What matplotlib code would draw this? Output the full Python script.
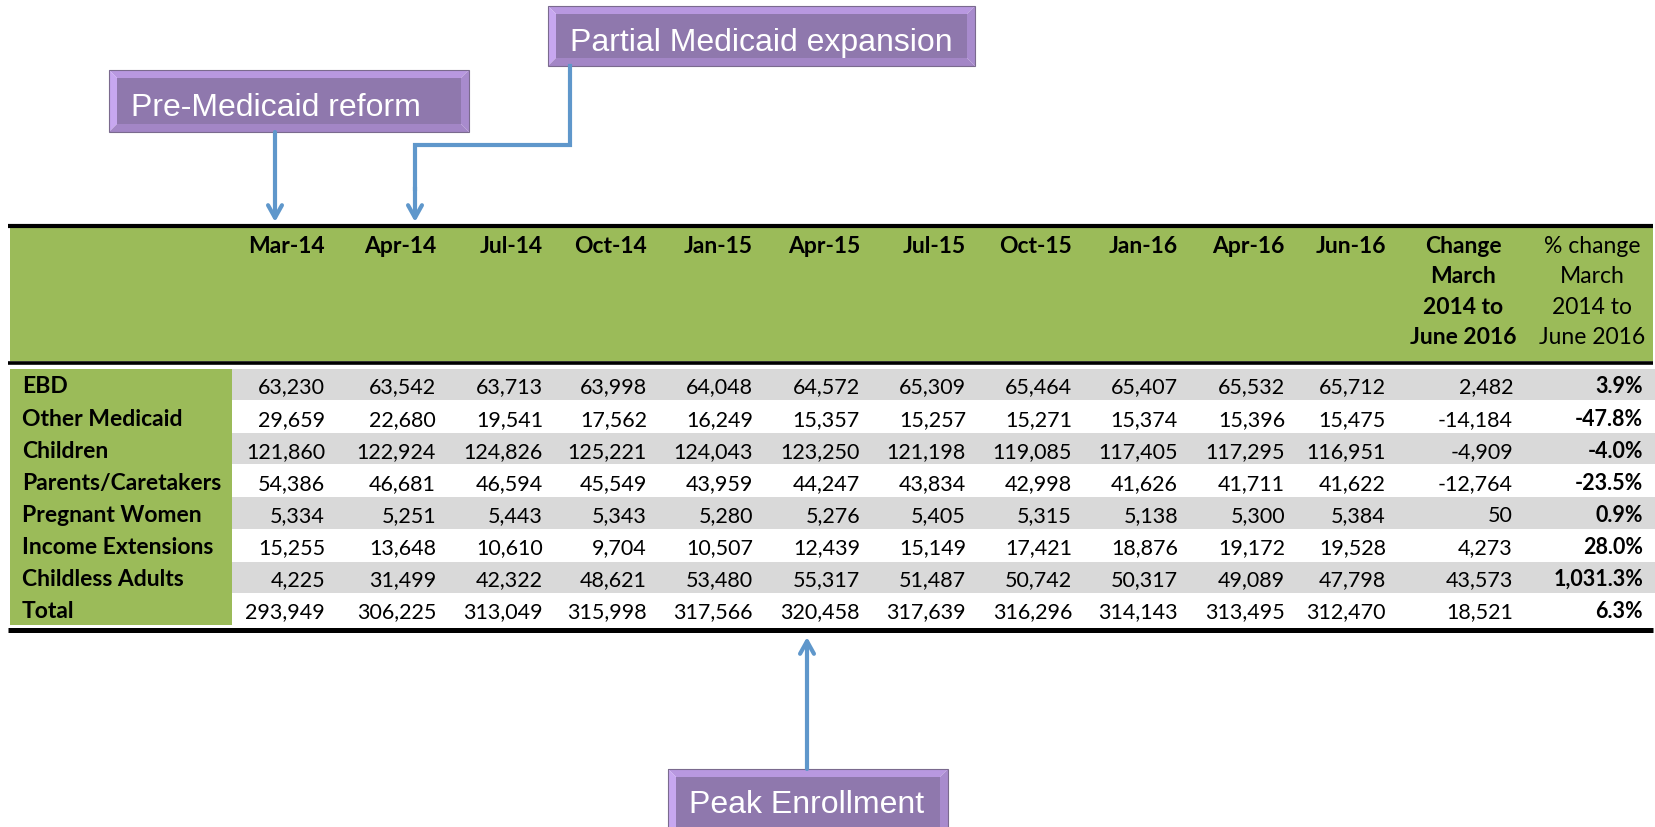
import matplotlib
matplotlib.use("Agg")
import matplotlib.pyplot as plt
from matplotlib.patches import Polygon, Rectangle

plt.rcParams["font.family"] = ["Lato", "DejaVu Sans"]

months = ["Mar-14", "Apr-14", "Jul-14", "Oct-14", "Jan-15", "Apr-15",
          "Jul-15", "Oct-15", "Jan-16", "Apr-16", "Jun-16"]
groups = ["EBD", "Other Medicaid", "Children", "Parents/Caretakers",
          "Pregnant Women", "Income Extensions", "Childless Adults", "Total"]
ebd = [63230, 63542, 63713, 63998, 64048, 64572, 65309, 65464, 65407, 65532, 65712]
other_medicaid = [29659, 22680, 19541, 17562, 16249, 15357, 15257, 15271, 15374, 15396, 15475]
children = [121860, 122924, 124826, 125221, 124043, 123250, 121198, 119085, 117405, 117295, 116951]
parents = [54386, 46681, 46594, 45549, 43959, 44247, 43834, 42998, 41626, 41711, 41622]
pregnant = [5334, 5251, 5443, 5343, 5280, 5276, 5405, 5315, 5138, 5300, 5384]
income_ext = [15255, 13648, 10610, 9704, 10507, 12439, 15149, 17421, 18876, 19172, 19528]
childless = [4225, 31499, 42322, 48621, 53480, 55317, 51487, 50742, 50317, 49089, 47798]
total = [293949, 306225, 313049, 315998, 317566, 320458, 317639, 316296, 314143, 313495, 312470]
change = [2482, -14184, -4909, -12764, 50, 4273, 43573, 18521]
pct_change = [3.9, -47.8, -4.0, -23.5, 0.9, 28.0, 1031.3, 6.3]
rows = [ebd, other_medicaid, children, parents, pregnant, income_ext, childless, total]

change_head = ["Change", "March", "2014 to", "June 2016"]
pct_head = ["% change", "March", "2014 to", "June 2016"]
callouts = ["Pre-Medicaid reform", "Partial Medicaid expansion", "Peak Enrollment"]

GREEN = "#9bbb59"
GREY = "#d9d9d9"
BLUE = "#5f97cb"

W, H = 1655, 828
fig = plt.figure(figsize=(W / 100, H / 100), dpi=100)
ax = fig.add_axes([0, 0, 1, 1])
ax.set_xlim(0, W)
ax.set_ylim(H, 0)
ax.axis("off")

# column right edges (pixels)
col_right = [325, 436, 543, 647, 753, 860, 966, 1072, 1178, 1285, 1386, 1513, 1643]
row_top, row_h = 370, 32.1
fs = 16.5      # labels / headers
fs_num = 15.5  # numbers

# header band
ax.add_patch(Rectangle((10, 229), W - 12, 133, color=GREEN, lw=0))
ax.plot([8, W - 2], [227, 227], color="black", lw=3, solid_capstyle="butt")
ax.plot([8, W - 2], [364, 364], color="black", lw=2.6, solid_capstyle="butt")

for i, m in enumerate(months):
    ax.text(col_right[i], 253, m, ha="right", va="baseline",
            fontsize=fs, fontweight="bold")
for k, (a, b) in enumerate(zip(change_head, pct_head)):
    y = 253 + 30.4 * k
    ax.text(1463, y, a, ha="center", va="baseline", fontsize=fs, fontweight="bold")
    ax.text(1592, y, b, ha="center", va="baseline", fontsize=fs)

# body rows
for r, name in enumerate(groups):
    top = row_top + r * row_h
    if r % 2 == 0:
        ax.add_patch(Rectangle((232, top), W - 232, row_h - 1, color=GREY, lw=0))
    base = top + 23.5
    ax.text(22, base, name, ha="left", va="baseline", fontsize=fs, fontweight="bold")
    for c, v in enumerate(rows[r]):
        ax.text(col_right[c], base, f"{v:,}", ha="right", va="baseline", fontsize=fs_num)
    ax.text(col_right[11], base, f"{change[r]:,}", ha="right", va="baseline",
            fontsize=fs_num)
    ax.text(col_right[12], base, f"{pct_change[r]:,.1f}%", ha="right", va="baseline",
            fontsize=fs_num, fontweight="bold")

ax.add_patch(Rectangle((10, row_top), 222, 8 * row_h - 1, color=GREEN, lw=0))
ax.plot([8, W - 2], [630.5, 630.5], color="black", lw=3.6, solid_capstyle="butt")


def bevel_box(x0, y0, x1, y1, b=8):
    faces = [
        ([(x0, y0), (x1, y0), (x1 - b, y0 + b), (x0 + b, y0 + b)], "#b898e0"),
        ([(x0, y0), (x0 + b, y0 + b), (x0 + b, y1 - b), (x0, y1)], "#c7a7f0"),
        ([(x1, y0), (x1, y1), (x1 - b, y1 - b), (x1 - b, y0 + b)], "#a88bcd"),
        ([(x0, y1), (x0 + b, y1 - b), (x1 - b, y1 - b), (x1, y1)], "#a386c6"),
    ]
    for pts, col in faces:
        ax.add_patch(Polygon(pts, closed=True, color=col, lw=0))
    ax.add_patch(Rectangle((x0 + b, y0 + b), x1 - x0 - 2 * b, y1 - y0 - 2 * b,
                           color="#8f78ad", lw=0))
    ax.add_patch(Rectangle((x0, y0), x1 - x0, y1 - y0, fill=False,
                           edgecolor="#7a6a8e", lw=0.8))


# callout boxes
bevel_box(109, 71, 469, 133)
bevel_box(548, 7, 975, 67)
bevel_box(668, 770, 948, 850)
ax.text(131, 116, callouts[0], color="white", fontsize=23,
        family="Liberation Sans", va="baseline")
ax.text(570, 51, callouts[1], color="white", fontsize=23,
        family="Liberation Sans", va="baseline")
ax.text(689, 813, callouts[2], color="white", fontsize=23,
        family="Liberation Sans", va="baseline")

# connector arrows
arrow = dict(arrowstyle="->,head_length=0.9,head_width=0.5", color=BLUE, lw=3,
             shrinkA=0, shrinkB=0)
ax.annotate("", xy=(275, 223), xytext=(275, 133), arrowprops=arrow)
ax.plot([570, 570, 415, 415], [67, 146, 146, 190], color=BLUE, lw=3,
        solid_joinstyle="miter")
ax.annotate("", xy=(415, 223), xytext=(415, 188), arrowprops=arrow)
ax.annotate("", xy=(807, 638), xytext=(807, 770), arrowprops=arrow)

fig.savefig("out.png", dpi=100)
